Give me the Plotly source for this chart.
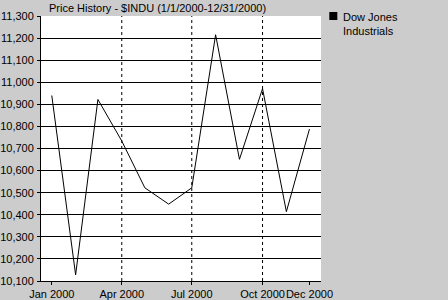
import plotly.graph_objects as go

dates = ["2000-01-01", "2000-02-01", "2000-03-01", "2000-04-01", "2000-05-01", "2000-06-01",
         "2000-07-01", "2000-08-01", "2000-09-01", "2000-10-01", "2000-11-01", "2000-12-01"]
values = [10940, 10128, 10922, 10734, 10522, 10448, 10522, 11215, 10651, 10971, 10414, 10788]
tick_dates = ["2000-01-01", "2000-04-01", "2000-07-01", "2000-10-01", "2000-12-01"]
tick_labels = ["Jan 2000", "Apr 2000", "Jul 2000", "Oct 2000", "Dec 2000"]
dashed_dates = ["2000-04-01", "2000-07-01", "2000-10-01"]
series_name = "Dow Jones<br>Industrials"
title_text = "Price History - $INDU (1/1/2000-12/31/2000)"

FONT = "Liberation Sans, Arial, sans-serif"

fig = go.Figure()
fig.add_trace(go.Scatter(x=dates, y=values, mode="lines",
                         line=dict(color="black", width=1), showlegend=False,
                         hoverinfo="skip"))

shapes = []
for d in dashed_dates:
    shapes.append(dict(type="line", xref="x", yref="paper", x0=d, x1=d, y0=0, y1=1,
                       line=dict(color="black", width=1, dash="3px,3px"), layer="above"))
# legend square
shapes.append(dict(type="rect", xref="paper", yref="paper",
                   x0=(329 - 41) / 279.7, x1=(337 - 41) / 279.7,
                   y0=(281 - 20) / 265, y1=(281 - 12) / 265,
                   fillcolor="black", line=dict(width=0)))

fig.update_layout(
    width=448, height=300,
    margin=dict(l=41, r=127, t=16, b=19, autoexpand=False),
    paper_bgcolor="#cccccc", plot_bgcolor="white",
    font=dict(family=FONT, size=11, color="black"),
    shapes=shapes,
    annotations=[
        dict(text=title_text, xref="paper", yref="paper", x=(47 - 41) / 279.7, y=1 + 8 / 265,
             xanchor="left", yanchor="middle", showarrow=False,
             font=dict(family=FONT, size=11, color="black")),
        dict(text=series_name, xref="paper", yref="paper", x=(341 - 41) / 279.7, y=(281 - 9) / 265,
             xanchor="left", yanchor="top", showarrow=False, align="left",
             font=dict(family=FONT, size=11, color="black")),
    ],
    xaxis=dict(type="date", range=["1999-12-18", "2000-12-16"],
               tickmode="array", tickvals=tick_dates, ticktext=tick_labels,
               tickangle=0, automargin=False,
               showgrid=False, zeroline=False,
               showline=True, linecolor="black", linewidth=1,
               ticks="outside", ticklen=3, tickcolor="black", tickwidth=1,
               tickfont=dict(family=FONT, size=11, color="black")),
    yaxis=dict(range=[10100, 11300], dtick=100, tick0=10100,
               tickformat=",d", automargin=False,
               showgrid=True, gridcolor="black", gridwidth=1, zeroline=False,
               showline=True, linecolor="black", linewidth=1,
               ticks="outside", ticklen=3, tickcolor="black", tickwidth=1,
               ticklabelstandoff=1,
               tickfont=dict(family=FONT, size=11, color="black")),
)

fig.write_html("out.html")
